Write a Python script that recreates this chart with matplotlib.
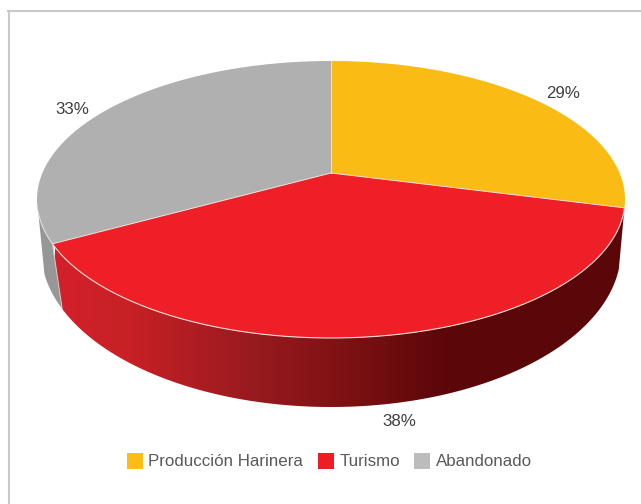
"""
Land use shares as a tilted 3D pie with a perspective projection
"""

import numpy as np
from matplotlib import pyplot as plt
from matplotlib.colors import LinearSegmentedColormap
from matplotlib.patches import Polygon, Rectangle

categories = ['Producción Harinera', 'Turismo', 'Abandonado']
shares = [29, 38, 33]
share_labels = ['29%', '38%', '33%']

top_colors = ['#fabb14', '#ee1f26', '#b0b0b0']
legend_colors = ['#fdbd14', '#ee1c25', '#bcbcbc']

W, H = 641, 504
CX = 331
APEX_Y = 173
# (centre y, x radius, y radius, perspective) of the top and bottom rims
TOP_RIM = (199.5, 294, 138.5, 26.5 / 138.5)
BOT_RIM = (250, 290, 157, 0.13)
SEAM = '#f3dcd6'


def project(angle, rim):
    """Circle point (clockwise from 12 o'clock) to pixels on a rim."""
    cy, rx, ry, k = rim
    sx, sy = np.sin(angle), np.cos(angle)
    w = 1 + k * sy
    x = CX + rx * np.sqrt(1 - k ** 2) * sx / w
    y = cy - ry * (sy + k) / w
    return x, y


def arc(a0, a1, rim):
    t = np.linspace(a0, a1, 200)
    return np.column_stack(project(t, rim))


fig = plt.figure(figsize=(W / 100, H / 100), dpi=100)
ax = fig.add_axes([0, 0, 1, 1])

# Chart frame
ax.plot([9, 9], [H, 11], c='#c9c9c9', lw=1.5, zorder=1)
ax.plot([8, W], [11, 11], c='#c9c9c9', lw=1.5, zorder=1)

edges = 2 * np.pi * np.cumsum([0] + shares) / sum(shares)
apex = (CX, APEX_Y)

# Side walls first: grey on the left, then the shaded red front
wall_end = edges[2] + 0.22
grey_wall = np.vstack([arc(edges[2], wall_end, TOP_RIM),
                       arc(wall_end, edges[2], BOT_RIM)])
ax.add_patch(Polygon(grey_wall, fc='#979797', ec='none', zorder=2))

red_wall = np.vstack([arc(edges[1], edges[2], TOP_RIM),
                      arc(edges[2], edges[1], BOT_RIM)])
wall_patch = Polygon(red_wall, fc='none', ec='none', zorder=3)
ax.add_patch(wall_patch)
shade = LinearSegmentedColormap.from_list(
    'wall', [(0, '#d3202a'), (0.13, '#c72026'), (0.36, '#951a1e'),
             (0.5, '#7f1214'), (0.68, '#5c0709'), (1, '#5a0709')])
img = ax.imshow(np.linspace(0, 1, 512)[None, :], cmap=shade, aspect='auto',
                extent=(55, 626, H, 0), zorder=3)
img.set_clip_path(wall_patch)
ax.set_xlim(0, W)
ax.set_ylim(H, 0)
ax.axis('off')

# Top face
for i, color in enumerate(top_colors):
    pts = np.vstack([arc(edges[i], edges[i + 1], TOP_RIM), apex])
    ax.add_patch(Polygon(pts, fc=color, ec='none', zorder=4))

# Light seams along the radii and the rim above the walls
for a in edges[:3]:
    x, y = project(a, TOP_RIM)
    ax.plot([CX, x], [APEX_Y, y], c=SEAM, lw=0.7, zorder=5)
red_rim = arc(edges[1], edges[2], TOP_RIM)
ax.plot(red_rim[:, 0], red_rim[:, 1], c=SEAM, lw=0.8, zorder=5)
grey_rim = arc(edges[2], wall_end, TOP_RIM)
ax.plot(grey_rim[:, 0], grey_rim[:, 1], c='#dedede', lw=0.8, zorder=5)
corner_top, corner_bot = project(edges[2], TOP_RIM), project(edges[2], BOT_RIM)
ax.plot([corner_top[0], corner_bot[0]], [corner_top[1], corner_bot[1]],
        c='#d8c8c8', lw=0.7, zorder=5)

# Percentage labels
label_pos = [(563, 93), (399, 421), (72, 109)]
for text, (x, y) in zip(share_labels, label_pos):
    ax.text(x, y, text, family='Liberation Sans', fontsize=12.2, color='#404040',
            ha='center', va='center', zorder=6)

# Legend row
legend_x = [127, 318, 414]
for name, color, x in zip(categories, legend_colors, legend_x):
    ax.add_patch(Rectangle((x, 453), 16, 16, fc=color, ec='none', zorder=6))
    ax.text(x + 21.5, 461, name, family='Liberation Sans', fontsize=12.2, color='#595959',
            ha='left', va='center', zorder=6)

plt.savefig('out.png', dpi=100)
